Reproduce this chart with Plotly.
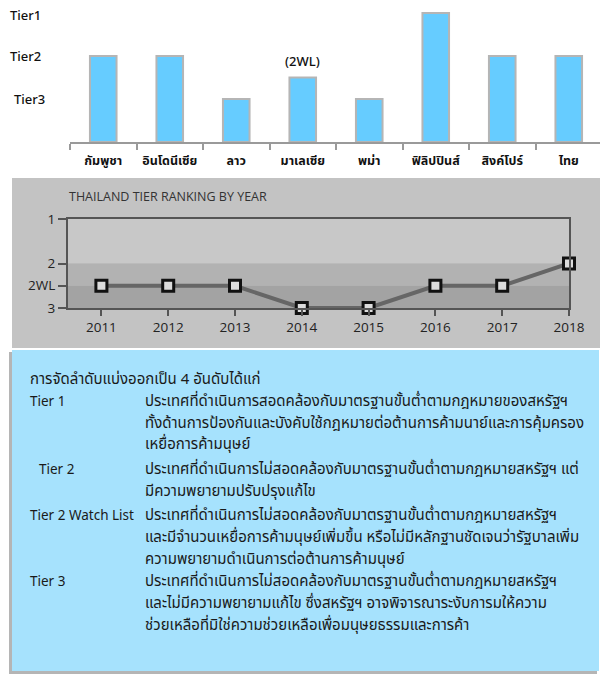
import plotly.graph_objects as go

# top chart: ASEAN tier levels (Tier3=1, 2WL=1.5, Tier2=2, Tier1=3)
countries = ["กัมพูชา", "อินโดนีเซีย", "ลาว", "มาเลเซีย", "พม่า", "ฟิลิปปินส์", "สิงค์โปร์", "ไทย"]
tier_level = [2, 2, 1, 1.5, 1, 3, 2, 2]
tier_axis_vals = [3, 2, 1]
tier_axis_text = ["Tier1", "Tier2", "Tier3"]

# middle chart: Thailand ranking by year
years = [2011, 2012, 2013, 2014, 2015, 2016, 2017, 2018]
rank = [2.5, 2.5, 2.5, 3, 3, 2.5, 2.5, 2]
rank_vals = [1, 2, 2.5, 3]
rank_text = ["1", "2", "2WL", "3"]

# text box
intro = "การจัดลำดับแบ่งออกเป็น 4 อันดับได้แก่"
tier_labels = ["Tier 1", " Tier 2", "Tier 2 Watch List", "Tier 3"]
tier_desc = [
    ["ประเทศที่ดำเนินการสอดคล้องกับมาตรฐานขั้นต่ำตามกฎหมายของสหรัฐฯ",
     "ทั้งด้านการป้องกันและบังคับใช้กฎหมายต่อต้านการค้ามนาย์และการคุ้มครอง",
     "เหยื่อการค้ามนุษย์"],
    ["ประเทศที่ดำเนินการไม่สอดคล้องกับมาตรฐานขั้นต่ำตามกฎหมายสหรัฐฯ แต่",
     "มีความพยายามปรับปรุงแก้ไข"],
    ["ประเทศที่ดำเนินการไม่สอดคล้องกับมาตรฐานขั้นต่ำตามกฎหมายสหรัฐฯ",
     "และมีจำนวนเหยื่อการค้ามนุษย์เพิ่มขึ้น หรือไม่มีหลักฐานชัดเจนว่ารัฐบาลเพิ่ม",
     "ความพยายามดำเนินการต่อต้านการค้ามนุษย์"],
    ["ประเทศที่ดำเนินการไม่สอดคล้องกับมาตรฐานขั้นต่ำตามกฎหมายสหรัฐฯ",
     "และไม่มีความพยายามแก้ไข ซึ่งสหรัฐฯ อาจพิจารณาระงับการมให้ความ",
     "ช่วยเหลือที่มิใช่ความช่วยเหลือเพื่อมนุษยธรรมและการค้า"],
]

W, H = 600, 675
THAI = "Tahoma, 'Noto Sans Thai', 'Noto Sans', sans-serif"
LATIN = "'Noto Sans', 'Open Sans', sans-serif"


def px(x):
    return x / W


def py(y):
    return 1 - y / H


fig = go.Figure()

fig.add_trace(go.Bar(
    x=countries, y=tier_level, width=0.4,
    marker=dict(color="#66ccff", line=dict(color="#b5b5b5", width=2)),
    xaxis="x", yaxis="y", showlegend=False,
))

fig.add_trace(go.Scatter(
    x=years, y=rank, mode="lines+markers",
    line=dict(color="#666666", width=4),
    marker=dict(symbol="square", size=11, color="#dcdcdc", line=dict(color="#111111", width=3)),
    cliponaxis=False, xaxis="x2", yaxis="y2", showlegend=False,
))

shapes = [
    # gray panel
    dict(type="rect", xref="paper", yref="paper", x0=px(12), x1=px(600), y0=py(348), y1=py(178),
         fillcolor="#c3c3c3", line_width=0, layer="below"),
    # bands
    dict(type="rect", xref="x2 domain", yref="y2", x0=0, x1=1, y0=1, y1=2,
         fillcolor="#c8c8c8", line_width=0, layer="below"),
    dict(type="rect", xref="x2 domain", yref="y2", x0=0, x1=1, y0=2, y1=2.5,
         fillcolor="#b2b2b2", line_width=0, layer="below"),
    dict(type="rect", xref="x2 domain", yref="y2", x0=0, x1=1, y0=2.5, y1=3,
         fillcolor="#a3a3a3", line_width=0, layer="below"),
    # text box shadow + box
    dict(type="rect", xref="paper", yref="paper", x0=px(9), x1=px(597), y0=py(674), y1=py(352),
         fillcolor="rgba(120,120,120,0.55)", line_width=0, layer="below"),
    dict(type="rect", xref="paper", yref="paper", x0=px(12), x1=px(599), y0=py(671), y1=py(350),
         fillcolor="#a6e2fd", line_width=0, layer="below"),
]

annotations = []
for v, t, xx in zip(tier_axis_vals, tier_axis_text, [8, 8, 12]):
    annotations.append(dict(x=px(xx), y=v, xref="paper", yref="y", text=t, showarrow=False,
                            xanchor="left", yanchor="middle", yshift=-2 if v == 3 else 0,
                            font=dict(size=13, color="#111111", family=LATIN, weight=500)))
annotations.append(dict(x=countries[3], y=tier_level[3], xref="x", yref="y", text="(2WL)",
                        showarrow=False, yanchor="bottom", yshift=6,
                        font=dict(size=13, color="#111111", family=LATIN, weight=500)))
annotations.append(dict(x=px(67), y=py(197), xref="paper", yref="paper",
                        text="THAILAND TIER RANKING BY YEAR", showarrow=False,
                        xanchor="left", yanchor="middle",
                        font=dict(size=12.5, color="#333333", family="'Open Sans', sans-serif")))

text_font = dict(size=15, color="#1a1a1a", family=THAI)
label_font = dict(size=13.5, color="#1a1a1a", family=LATIN)
annotations.append(dict(x=px(28), y=py(379), xref="paper", yref="paper", text=intro,
                        showarrow=False, xanchor="left", yanchor="middle", font=text_font))
row_y = [401, 469, 515, 581]
for lab, lines, y0 in zip(tier_labels, tier_desc, row_y):
    annotations.append(dict(x=px(37 if lab.startswith(" ") else 28), y=py(y0), xref="paper", yref="paper",
                            text=lab.strip(), showarrow=False, xanchor="left", yanchor="middle",
                            font=label_font))
    for i, ln in enumerate(lines):
        annotations.append(dict(x=px(143), y=py(y0 + 22 * i), xref="paper", yref="paper", text=ln,
                                showarrow=False, xanchor="left", yanchor="middle", font=text_font))

fig.update_layout(
    width=W, height=H,
    margin=dict(l=0, r=0, t=0, b=0),
    paper_bgcolor="white", plot_bgcolor="rgba(0,0,0,0)",
    shapes=shapes, annotations=annotations,
    xaxis=dict(domain=[px(70), 1], range=[-0.5, 7.47], showline=True, linecolor="#9a9a9a",
               linewidth=1.5, ticks="outside", tickson="boundaries", ticklen=6,
               tickcolor="#9a9a9a", tickwidth=1.5, showgrid=False, automargin=False,
               ticklabelstandoff=6,
               tickfont=dict(size=12.5, color="#111111", family=THAI, weight="bold"), anchor="y"),
    yaxis=dict(domain=[py(142), py(4)], range=[0, 3.21], showticklabels=False, showgrid=False,
               zeroline=False, showline=False, ticks="", anchor="x", automargin=False),
    xaxis2=dict(domain=[px(68), px(569)], range=[2010.5, 2018], tickvals=years,
                showline=True, mirror=True, linecolor="#555555", linewidth=2,
                ticks="outside", ticklen=6, tickcolor="#555555", tickwidth=2, showgrid=False,
                tickfont=dict(size=13.5, color="#222222", family="'Open Sans', sans-serif"),
                anchor="y2", automargin=False),
    yaxis2=dict(domain=[py(308), py(219)], range=[3, 1], tickvals=rank_vals, ticktext=rank_text,
                showline=True, mirror=True, linecolor="#555555", linewidth=2,
                ticks="outside", ticklen=8, tickcolor="#555555", tickwidth=2, showgrid=False,
                zeroline=False, automargin=False,
                tickfont=dict(size=13.5, color="#222222", family="'Open Sans', sans-serif"),
                anchor="x2"),
)

# drop the default body margin so the 600x675 figure fills the window exactly
fig.write_html("out.html", post_script="document.body.style.margin='0';",
               config={"displayModeBar": False})
